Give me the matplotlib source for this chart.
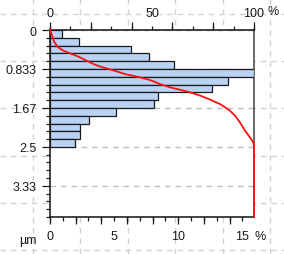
import numpy as np
import matplotlib
matplotlib.use("Agg")
import matplotlib.pyplot as plt

# ── Dados ─────────────────────────────────────────────────────
bin_width = 1 / 6  # µm
bar_values = [0.96, 2.24, 6.33, 7.71, 9.69, 15.9, 13.88, 12.6,
              8.38, 8.13, 5.18, 3.05, 2.3, 2.34, 1.98]  # %

# curva acumulada (profundidade µm, %)
cum_depth = [0.0, 0.15, 0.257, 0.364, 0.434, 0.507, 0.578, 0.648, 0.721,
             0.776, 0.828, 0.883, 0.948, 1.012, 1.07, 1.155, 1.226, 1.277,
             1.333, 1.401, 1.487, 1.583, 1.653, 1.726, 1.833, 1.974, 2.154,
             2.295, 2.402, 2.5, 4.0]
cum_pct = [0.0, 1.3, 2.1, 3.8, 6.2, 10.3, 14.4, 17.6, 20.9,
           24.2, 28.3, 32.4, 37.3, 44.1, 49.0, 53.9, 58.8, 63.7,
           68.6, 73.5, 78.4, 83.3, 85.8, 88.2, 90.7, 93.1, 95.6,
           98.0, 99.6, 100.0, 100.0]

y_ticks = [0, 5 / 6, 10 / 6, 15 / 6, 20 / 6]
y_labels = ["0", "0.833", "1.67", "2.5", "3.33"]
bottom_labels = {0: "0", 5: "5", 10: "10", 15: "15"}
top_labels = {0: "0", 50: "50", 100: "100"}

DEPTH_MAX = 4.0
TXT = "#1a1a1a"
FONT = 9

plt.rcParams["font.family"] = ["Liberation Sans", "DejaVu Sans"]
plt.rcParams["font.size"] = FONT

fig = plt.figure(figsize=(2.84, 2.55), dpi=100)

# ── Grade de fundo (página) ───────────────────────────────────
bg = fig.add_axes([0, 0, 1, 1], zorder=0)
bg.set_xlim(0, 284)
bg.set_ylim(255, 0)
bg.axis("off")
for k in range(6):
    bg.axvline(33 + k * 47.4, color="#d2d2d2", lw=1.0, ls=(0, (4, 3.5)))
    bg.axhline(15 + k * 47.2, color="#d2d2d2", lw=1.0, ls=(0, (4, 3.5)))

# ── Histograma ────────────────────────────────────────────────
ax = fig.add_axes([50 / 284, 1 - 218 / 255, 204 / 284, 187 / 255], zorder=1)
ax.set_facecolor("white")
edges = np.arange(len(bar_values)) * bin_width
ax.barh(edges, bar_values, height=bin_width, align="edge",
        color="#bad3f5", edgecolor="#1a1a1a", linewidth=0.9, zorder=3)
ax.set_xlim(0, max(bar_values))
ax.set_ylim(DEPTH_MAX, 0)

ax.set_yticks(y_ticks, y_labels)
ax.set_yticks(np.arange(0, DEPTH_MAX + 1e-6, bin_width), minor=True)
ax.tick_params(axis="y", which="major", length=5.8, width=0.9, pad=3.8,
               colors=TXT, labelsize=FONT)
ax.tick_params(axis="y", which="minor", length=2.6, width=0.9, color=TXT)
ax.grid(axis="y", which="major", color="#bdbdbd", lw=1.0, ls=(0, (4, 3.5)),
        zorder=1)

xt = np.arange(0, 16)
ax.set_xticks(xt, [bottom_labels.get(int(v), "") for v in xt])
ax.set_xticks(np.arange(0, 16, 2), minor=True)
ax.xaxis.remove_overlapping_locs = False
ax.tick_params(axis="x", which="major", length=2.9, width=0.9, pad=6.3,
               colors=TXT, labelsize=FONT)
ax.tick_params(axis="x", which="minor", length=5.0, width=0.9, color=TXT)

for side in ["left", "bottom"]:
    ax.spines[side].set_linewidth(1.1)
    ax.spines[side].set_color("#111111")
ax.spines["right"].set_color("#404040")
ax.spines["right"].set_linewidth(1.1)
ax.spines["top"].set_visible(False)

# ── Curva acumulada (eixo superior) ───────────────────────────
ax2 = ax.twiny()
ax2.set_zorder(2)
ax2.set_xlim(0, 100)
ax2.plot(cum_pct, cum_depth, color="#ff1010", lw=1.3, clip_on=False,
         solid_joinstyle="round", zorder=5)
tt = np.arange(0, 101, 10)
ax2.set_xticks(tt, [top_labels.get(int(v), "") for v in tt])
ax2.set_xticks(np.arange(0, 101, 20), minor=True)
ax2.xaxis.remove_overlapping_locs = False
ax2.tick_params(axis="x", which="major", length=3.2, width=0.9, pad=5.0,
                colors=TXT, labelsize=FONT)
ax2.tick_params(axis="x", which="minor", length=5.8, width=0.9, color=TXT)
ax2.spines["top"].set_linewidth(1.1)
ax2.spines["top"].set_color("#111111")
for side in ["left", "right", "bottom"]:
    ax2.spines[side].set_visible(False)

# unidades
ax2.annotate("%", xy=(1, 1), xycoords="axes fraction", xytext=(10, 9.6),
             textcoords="offset points", ha="left", va="bottom", color=TXT)
ax.annotate("%", xy=(15 / max(bar_values), 0), xycoords="axes fraction",
            xytext=(8.5, -9.3), textcoords="offset points", ha="left",
            va="top", color=TXT)
ax.annotate("µm", xy=(0, 0), xycoords="axes fraction", xytext=(-16, -12.5),
            textcoords="offset points", ha="center", va="top", color=TXT)

plt.savefig("out.png", dpi=100)
